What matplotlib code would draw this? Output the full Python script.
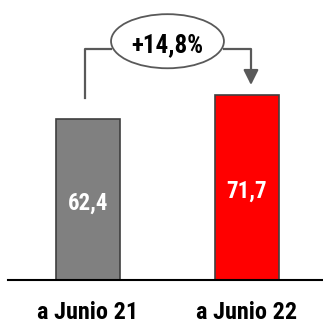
import matplotlib
matplotlib.use("Agg")
import matplotlib.pyplot as plt
from matplotlib.patches import Ellipse

categories = ["a Junio 21", "a Junio 22"]
values = [62.4, 71.7]
value_labels = ["62,4", "71,7"]
change_label = "+14,8%"
colors = ["#808080", "#ff0000"]

plt.rcParams["font.family"] = ["Roboto Condensed", "DejaVu Sans"]
plt.rcParams["font.weight"] = "bold"

fig = plt.figure(figsize=(3.23, 3.25), dpi=100)
ax = fig.add_axes([8 / 323, 45 / 325, 315 / 323, 280 / 325])

x = list(range(len(categories)))
ax.bar(x, values, width=0.40, color=colors, edgecolor="#3f3f3f", linewidth=1.2, zorder=2)

for xi, v, lab in zip(x, values, value_labels):
    ax.text(xi, v * 0.48, lab, ha="center", va="center", color="white",
            fontsize=16.5, fontweight="bold")

ax.set_xlim(-0.503, 1.478)
ax.set_ylim(0, 108.7)

# bracket with growth label
lvl = max(values) + 18
start = values[0] + 8.3
tip = values[1] + 4
xl, xr = x[0] - 0.02, x[1] + 0.025
ecx, ew, eh = 0.5, 0.71, 21
ax.plot([xl, xl, ecx - ew / 2], [start, lvl, lvl], color="#595959", lw=1.6, zorder=1)
ax.plot([ecx + ew / 2, xr, xr], [lvl, lvl, tip + 5], color="#595959", lw=1.6, zorder=1)
ax.annotate("", xy=(xr, tip), xytext=(xr, tip + 6),
            arrowprops=dict(arrowstyle="-|>,head_length=0.9,head_width=0.45",
                            color="#595959", lw=1.6, shrinkA=0, shrinkB=0))
ax.add_patch(Ellipse((ecx, lvl + 3), ew, eh, facecolor="white",
                     edgecolor="#595959", lw=1.3, zorder=3))
ax.text(ecx, lvl + 1.5, change_label, ha="center", va="center", fontsize=18,
        fontweight="bold", color="black", zorder=4)

for s in ["top", "right", "left"]:
    ax.spines[s].set_visible(False)
ax.spines["bottom"].set_linewidth(1.5)
ax.set_yticks([])
ax.set_xticks(x)
ax.set_xticklabels(categories, fontsize=17.5, fontweight="bold")
ax.tick_params(axis="x", length=0, pad=15)
ax.patch.set_alpha(0)

fig.savefig("out.png", dpi=100)
